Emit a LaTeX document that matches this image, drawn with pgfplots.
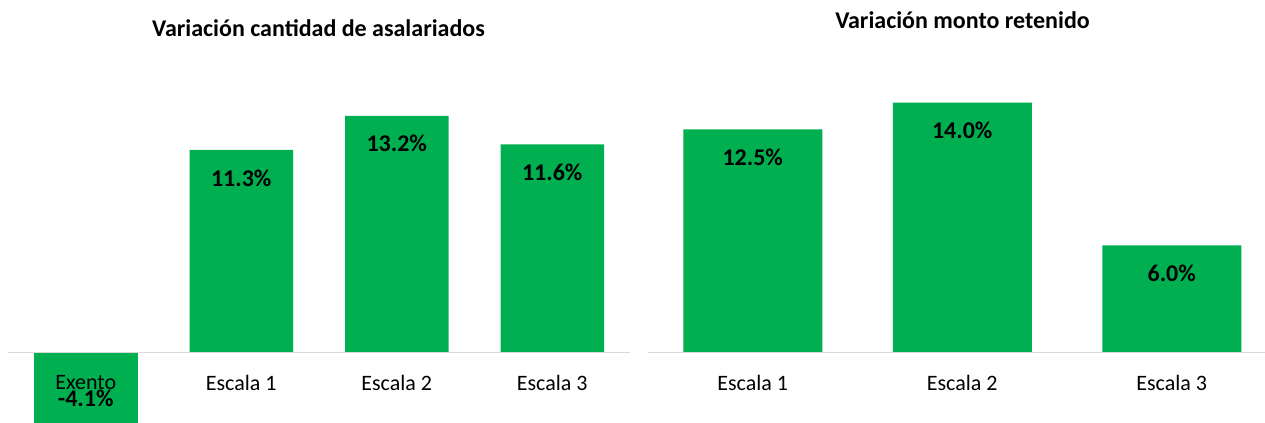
\documentclass[border=0pt]{standalone}
\usepackage{fontspec}
\setmainfont{Carlito}
\usepackage{pgfplots}
\pgfplotsset{compat=1.18}
\definecolor{barcol}{HTML}{00B050}
\definecolor{axiscol}{HTML}{D9D9D9}

\pgfplotsset{
  panel/.style={
    scale only axis,
    anchor=south west,
    axis on top,
    axis x line=middle,
    axis y line=none,
    axis line style={axiscol, line width=0.9pt, -},
    ymin=-5, ymax=16,
    xmin=-0.5,
    ytick=\empty,
    major tick length=0pt,
    xticklabel style={anchor=center, yshift=-15pt, text=black,
      font=\fontsize{11}{13}\selectfont},
    ybar, bar shift=0pt,
    clip=false,
    nodes near coords={\pgfmathprintnumber[fixed,fixed zerofill,precision=1,
      assume math mode=true]{\pgfplotspointmeta}\%},
    every node near coord/.append style={
      font=\fontsize{12}{14}\selectfont\bfseries, anchor=center, text=black},
  },
}

\begin{document}
\begin{tikzpicture}
\path[use as bounding box, clip] (0,0) rectangle (632.5pt,211.5pt);

% left panel
\begin{axis}[panel,
  at={(4pt,-9.575pt)},
  width=311pt, height=188.3pt,
  xmax=3.5,
  xtick={0,1,2,3},
  xticklabels={Exento, Escala 1, Escala 2, Escala 3},
]
  \addplot[fill=barcol, draw=none, bar width=51.75pt,
    every node near coord/.append style={yshift=14pt}]
    coordinates {(0,-4.1)};
  \addplot[fill=barcol, draw=none, bar width=51.75pt,
    every node near coord/.append style={yshift=-14pt}]
    coordinates {(1,11.3) (2,13.2) (3,11.6)};
\end{axis}

% right panel
\begin{axis}[panel,
  at={(324pt,-9.375pt)},
  width=314.25pt, height=187.4pt,
  xmax=2.5,
  xtick={0,1,2},
  xticklabels={Escala 1, Escala 2, Escala 3},
]
  \addplot[fill=barcol, draw=none, bar width=69.5pt,
    every node near coord/.append style={yshift=-14pt}]
    coordinates {(0,12.5) (1,14.0) (2,6.0)};
\end{axis}

\node[font=\fontsize{12}{14}\selectfont\bfseries] at (159.25pt,197.5pt)
  {Variación cantidad de asalariados};
\node[font=\fontsize{12}{14}\selectfont\bfseries] at (481.25pt,201.5pt)
  {Variación monto retenido};
\end{tikzpicture}
\end{document}
